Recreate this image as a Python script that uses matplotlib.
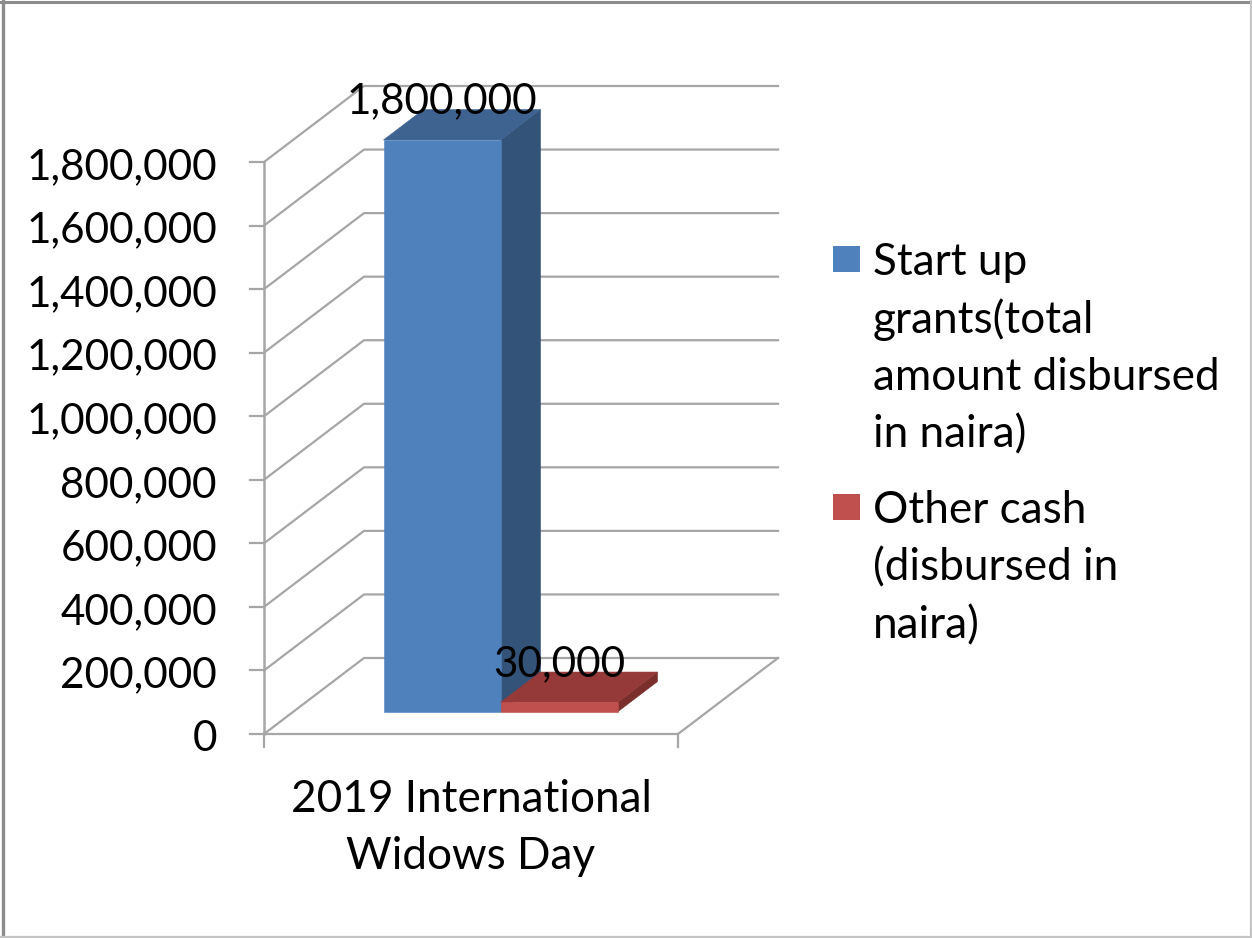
import matplotlib
matplotlib.use("Agg")
import matplotlib.pyplot as plt
from matplotlib.patches import Polygon, Rectangle

plt.rcParams["font.family"] = ["Lato", "DejaVu Sans"]

W, H = 1252, 938

category = "2019 International\nWidows Day"
series_names = ["Start up\ngrants(total\namount disbursed\nin naira)",
                "Other cash\n(disbursed in\nnaira)"]
series_values = [1800000, 30000]
y_ticks = [0, 200000, 400000, 600000, 800000, 1000000, 1200000, 1400000, 1600000, 1800000]

front_colors = ["#4f81bd", "#c0504d"]
top_colors = ["#3f6391", "#953a38"]
side_colors = ["#335378", "#7a2f2d"]
GRID = "#a6a6a6"
NUM_SIZE = 30.4
TEXT_SIZE = 31.8

# fake 3d: how far the back wall sits from the front plane
YMAX = 1800000
PX_Y = YMAX / 572  # value per pixel
DEPTH_X = 100 / 414
DEPTH_Y = 76 * PX_Y
# where the bars sit inside the floor (fractions of floor depth)
BAR_Z0 = 0.29
BAR_Z1 = 0.69
BAR_X0 = 90.5 / 414
BAR_W = 117 / 414


def proj(x, y, z):
    return x + z * DEPTH_X, y + z * DEPTH_Y


def box(ax, x0, x1, value, i):
    z0, z1 = BAR_Z0, BAR_Z1
    top = [proj(x0, value, z0), proj(x1, value, z0), proj(x1, value, z1), proj(x0, value, z1)]
    side = [proj(x1, 0, z0), proj(x1, 0, z1), proj(x1, value, z1), proj(x1, value, z0)]
    front = [proj(x0, 0, z0), proj(x1, 0, z0), proj(x1, value, z0), proj(x0, value, z0)]
    for pts, c in [(side, side_colors[i]), (top, top_colors[i]), (front, front_colors[i])]:
        ax.add_patch(Polygon(pts, closed=True, fc=c, ec=c, lw=0.4, clip_on=False, zorder=3 + i))


fig = plt.figure(figsize=(W / 100, H / 100), dpi=100)
fig.patch.set_facecolor("white")
ax = fig.add_axes([264 / W, (H - 734) / H, 414 / W, 572 / H])
ax.set_xlim(0, 1)
ax.set_ylim(0, YMAX)
ax.axis("off")

# outer frame
fig.add_artist(plt.Line2D([3 / W, 3 / W], [0, 1], color="#8c8c8c", lw=2.4))
fig.add_artist(plt.Line2D([0, 1], [1 - 2.5 / H, 1 - 2.5 / H], color="#8c8c8c", lw=2.2))
fig.add_artist(plt.Line2D([1 - 0.8 / W, 1 - 0.8 / W], [0, 1], color="#c4c4c4", lw=1.6))
fig.add_artist(plt.Line2D([0, 1], [0.8 / H, 0.8 / H], color="#c4c4c4", lw=1.6))

# walls and gridlines
for v in y_ticks:
    bx, by = proj(0, v, 1)
    ex, ey = proj(1, v, 1)
    ax.plot([0, bx, ex], [v, by, ey], color=GRID, lw=1.6, clip_on=False, zorder=1)
    ax.text(-47 / 414, v - 5 * PX_Y, f"{v:,}", ha="right", va="center", fontsize=NUM_SIZE,
            color="black", clip_on=False, zorder=6)

# floor front and right edge
ex, ey = proj(1, 0, 1)
ax.plot([0, 1, ex], [0, 0, ey], color=GRID, lw=1.6, clip_on=False, zorder=1)
ax.plot([0, 0], [0, YMAX], color=GRID, lw=1.8, clip_on=False, zorder=1)

# tick marks
tick_x = 14 / 414
tick_y = 13 * PX_Y
for v in y_ticks:
    ax.plot([-tick_x, 0], [v, v], color=GRID, lw=1.6, clip_on=False, zorder=1)
ax.plot([0, 0], [0, -tick_y], color=GRID, lw=1.6, clip_on=False, zorder=1)
ax.plot([1, 1], [0, -tick_y], color=GRID, lw=1.6, clip_on=False, zorder=1)

# bars
for i, v in enumerate(series_values):
    box(ax, BAR_X0 + i * BAR_W, BAR_X0 + (i + 1) * BAR_W, v, i)

# data labels
for i, v in enumerate(series_values):
    lx = proj(BAR_X0 + (i + 0.5) * BAR_W, v, BAR_Z0)[0]
    ly = proj(0, v, BAR_Z1)[1]
    ax.text(lx, ly + 8 * PX_Y, f"{v:,}", ha="center", va="center", fontsize=NUM_SIZE,
            color="black", clip_on=False, zorder=7)

# category label
ax.text(0.5, -94 * PX_Y, category, ha="center", va="center", fontsize=TEXT_SIZE,
        linespacing=1.5, color="black", clip_on=False, zorder=6)

# legend
legend_tops = [260, 508]
for name, c, y in zip(series_names, front_colors, legend_tops):
    fig.add_artist(Rectangle((833 / W, 1 - (y + 12) / H), 27 / W, 26 / H, fc=c, ec="none",
                             transform=fig.transFigure))
    for k, line in enumerate(name.split("\n")):
        fig.text(873 / W, 1 - (y + 2 + k * 57.7) / H, line, ha="left", va="center",
                 fontsize=TEXT_SIZE, color="black")

fig.savefig("out.png", dpi=100, facecolor="white")
